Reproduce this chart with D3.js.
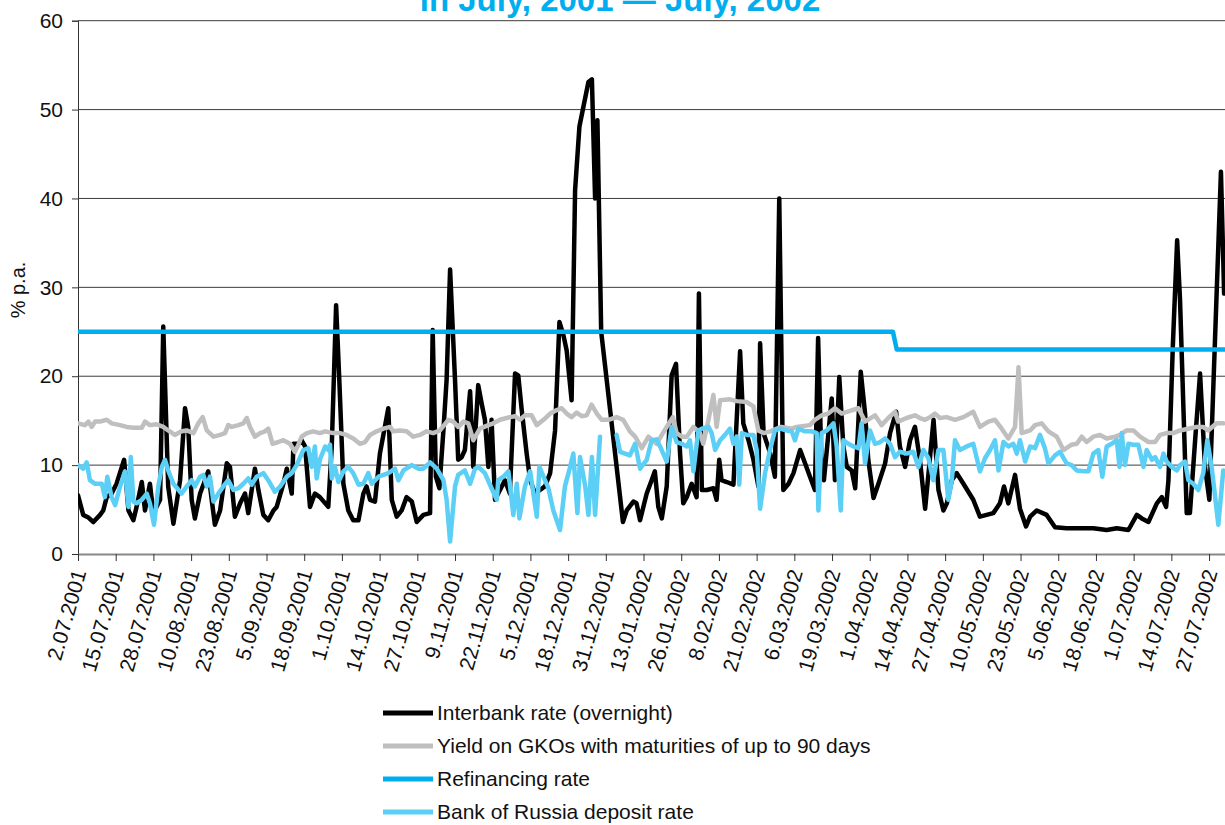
<!DOCTYPE html>
<html>
<head>
<meta charset="utf-8">
<script src="https://cdn.jsdelivr.net/npm/d3@7"></script>
<style>
  body { margin: 0; background: #fff; }
  svg { display: block; font-family: "Liberation Sans", Arial, sans-serif; }
</style>
</head>
<body>
<svg width="1225" height="825"></svg>
<script>
'use strict'

// day offsets from 2.07.2001, value in % p.a.
const interbank = [
    [0, 6.6], [1.8, 4.4], [3.6, 4.1], [5.3, 3.6], [7.6, 4.4], [8.7, 4.9], [9.9, 6.4], [11.6, 6.8],
    [13.3, 7.9], [15.9, 10.6], [17.4, 4.9], [19.1, 3.8], [20.2, 5.3], [22, 8.1], [23.1, 4.9],
    [24.8, 7.9], [26, 4.6], [28.3, 6.1], [29.4, 25.6], [31.1, 7.6], [32.9, 3.4], [35.2, 8.3],
    [36.9, 16.4], [38, 14.3], [39.2, 6.1], [40.3, 4], [42.1, 6.8], [43.8, 8.3], [44.9, 9.3],
    [46.1, 6.1], [47.2, 3.3], [49, 4.9], [51.3, 10.2], [52.4, 9.8], [54.1, 4.2], [55.9, 5.7],
    [57.6, 6.8], [58.7, 4.6], [61, 9.6], [62.2, 7.2], [63.9, 4.4], [65.6, 3.8], [67.4, 4.9],
    [68.5, 5.3], [70.8, 7.9], [72, 9.6], [73.7, 6.8], [74.3, 12.4], [76, 12.4], [77.1, 12.8],
    [78.3, 12.1], [80, 5.3], [81.7, 6.8], [83.4, 6.4], [86.3, 5.3], [87.5, 12.1], [89, 28],
    [90.1, 19.6], [91.5, 7.9], [93.2, 4.9], [94.9, 3.8], [96.7, 3.8], [98.4, 6.8], [99.5, 7.6],
    [100.7, 6.1], [102.4, 5.9], [104.1, 11.3], [107, 16.4], [108.2, 6.1], [109.9, 4.2],
    [111.6, 4.9], [113.3, 6.4], [115.1, 5.9], [116.8, 3.6], [119.1, 4.4], [121.4, 4.6],
    [122.3, 25.2], [123.4, 8.7], [124.6, 7.4], [126, 13.9], [127.1, 19.6], [128.3, 32],
    [130, 19.6], [131.1, 10.6], [132.3, 10.9], [133.4, 11.7], [135.2, 18.3], [136.3, 9.8],
    [138, 19], [139.2, 16.9], [140.3, 15.1], [141.5, 9.8], [142.6, 15.1], [143.8, 6.1],
    [145.5, 7.2], [147.2, 8.3], [148.9, 6.8], [150.7, 20.3], [151.8, 20.1], [153, 16.2],
    [154.7, 11.3], [155.9, 8.3], [157.6, 6.8], [159.3, 7.2], [161, 7.6], [162.8, 9.1],
    [164.5, 13.9], [166, 26.1], [167.4, 24.6], [168.5, 22.9], [170.2, 17.3], [171.4, 40.9],
    [172.9, 48.1], [176, 53.1], [177.2, 53.4], [178.3, 40], [179.1, 48.8], [180.4, 25],
    [187.9, 3.6], [189.2, 4.9], [191.5, 5.9], [192.6, 5.7], [193.8, 3.8], [196.1, 6.8],
    [197.8, 8.3], [198.9, 9.3], [200.1, 5.3], [201.3, 4], [203, 7.6], [204.7, 20.1],
    [206.2, 21.4], [207.6, 11.3], [208.7, 5.7], [209.9, 6.4], [211.6, 7.9], [213.3, 6.4],
    [214.1, 29.3], [215.1, 7.2], [216.8, 7.2], [219.1, 7.4], [220.2, 6.1], [221.1, 10.6],
    [221.9, 8.3], [223.7, 8.1], [226, 7.8], [228.3, 22.8], [229.4, 14.7], [231.2, 12.8],
    [232.9, 10.6], [234.6, 7.6], [235.2, 23.7], [236.4, 13.6], [238.7, 11.3], [240.3, 8.7],
    [241.8, 40], [243.2, 7.2], [245, 7.9], [246.7, 9.1], [249, 11.7], [250.7, 10.2],
    [252.4, 8.7], [254.1, 7.2], [255.2, 24.3], [256.4, 9.8], [257.2, 8.3], [259.9, 17.5],
    [261, 8.3], [262.5, 19.9], [263.9, 12.1], [265.1, 9.8], [266.8, 9.4], [268, 7.4],
    [269.9, 20.5], [271.4, 15.8], [272.5, 10.6], [274.3, 6.3], [276, 7.9], [278.3, 10.2],
    [280, 13.6], [282.1, 16], [283.4, 12.1], [285.2, 9.8], [286.9, 12.8], [288.6, 14.3],
    [290.3, 10.6], [292.1, 5.1], [293.8, 10.9], [295, 15.1], [296.7, 7.2], [298.4, 4.9],
    [299.6, 5.7], [301.3, 8.3], [303, 9.1], [305.3, 7.9], [308.7, 6.1], [311, 4.2],
    [313.3, 4.4], [315.6, 4.6], [317.9, 5.7], [319.3, 7.6], [320.8, 5.7], [323.1, 8.9],
    [324.8, 5.1], [326.9, 3.1], [328.3, 4.2], [330.6, 4.9], [334, 4.4], [336.9, 3],
    [340.9, 2.9], [346.7, 2.9], [350.1, 2.9], [354.7, 2.7], [358.2, 2.9], [362.2, 2.7],
    [365.1, 4.4], [366.8, 4], [369.1, 3.6], [372, 5.7], [373.7, 6.4], [375.2, 5.3],
    [376, 8.3], [377.5, 23.3], [379, 35.3], [380, 28.5], [382.3, 4.6], [383.4, 4.6],
    [385.2, 12.8], [386.9, 20.3], [388.6, 9.8], [390.1, 6.1], [394.1, 43], [395.2, 29.3]
]

const gko = [
    [0, 14.7], [2.4, 14.5], [3.6, 14.9], [4.7, 14.3], [5.9, 14.9], [7.6, 14.9], [9.9, 15.1],
    [11.6, 14.7], [14.5, 14.5], [16.8, 14.3], [19.1, 14.2], [22, 14.2], [23.1, 14.9],
    [24.8, 14.5], [27.1, 14.6], [29.4, 14.3], [31.1, 13.9], [33.4, 13.4], [35.7, 13.8],
    [37.5, 13.9], [39.8, 13.6], [41.5, 14.7], [43, 15.4], [44.4, 13.9], [46.7, 13.2],
    [49, 13.4], [50.7, 13.6], [51.8, 14.5], [53, 14.3], [55.3, 14.5], [57, 14.7], [58.2, 15.3],
    [59.3, 14.3], [61, 13.2], [62.8, 13.6], [64.5, 13.8], [65.6, 14.1], [67.1, 12.4],
    [69.1, 12.6], [70.8, 12.8], [73.1, 12.4], [74.8, 11.5], [76, 12.3], [77.1, 13.2],
    [78.9, 13.6], [81.1, 13.8], [83.4, 13.6], [85.2, 13.8], [88, 13.6], [90.3, 13.6],
    [92.6, 13.4], [94.9, 13], [97.2, 12.4], [99, 12.6], [100.7, 13.4], [103, 13.8],
    [105.3, 14.1], [107.6, 14.3], [108.7, 13.8], [111, 13.9], [113.3, 13.8], [115.6, 13.2],
    [117.9, 13.4], [120.2, 13.8], [122.5, 13.6], [124.8, 13.9], [127.7, 15.1], [129.4, 14.9],
    [131.1, 14.3], [132.9, 14.9], [134.6, 14.7], [136.3, 12.8], [138.6, 14.1], [141.5, 14.5],
    [143.2, 14.7], [145.5, 15.1], [148.9, 15.4], [150.7, 15.5], [152.4, 15.1], [154.1, 15.6],
    [156.4, 15.6], [158.2, 14.5], [160.5, 15.1], [162.8, 15.8], [165.1, 16.2], [166.8, 16.4],
    [168.5, 15.8], [170.2, 15.4], [171.9, 15.9], [173.7, 15.5], [175.4, 15.6], [177.1, 16.8],
    [178.9, 15.8], [180.6, 15.1], [182.9, 15.1], [185.7, 15.4], [188, 15.1], [190.3, 13.8],
    [192.1, 13.2], [194.4, 11.9], [196.7, 13.2], [199.5, 12.4], [201.3, 13.4], [203, 14.3],
    [205.1, 15.4], [206.4, 13.6], [208.2, 13.2], [209.9, 13.2], [212.2, 14.3], [214.5, 13.6],
    [215.6, 12.4], [217.4, 15.1], [219.1, 17.9], [220.2, 14.3], [221.4, 17.3], [224.8, 17.4],
    [227.1, 17.2], [230.6, 17.1], [232.9, 16.6], [234.6, 13.9], [236.4, 13.6], [238.7, 13.8],
    [241, 14.1], [242.6, 14.3], [246.1, 14.1], [247.8, 14.3], [252.4, 14.5], [254.1, 15.1],
    [256.4, 15.6], [258.7, 15.8], [261, 16.4], [263.3, 15.8], [266.2, 16.1], [269.1, 16.4],
    [271.4, 14.9], [274.8, 15.6], [277.1, 14.5], [279.4, 15.3], [281.7, 16], [282.8, 14.9],
    [285.7, 15.3], [288.6, 15.6], [290.3, 15.3], [292.1, 15.1], [293.8, 15.4], [295.5, 15.8],
    [297.2, 15.3], [299.5, 15.4], [302.4, 15.1], [305.3, 15.4], [308.7, 16], [311, 14.3],
    [313.9, 14.9], [316.2, 15.1], [318.5, 14.1], [320.8, 13], [323.1, 14.3], [324.3, 21],
    [325.4, 13.6], [328.3, 13.9], [330, 14.5], [332.3, 14.7], [334.6, 13.8], [337.5, 13.2],
    [339.8, 11.7], [342.6, 12.3], [344.4, 12.4], [346.1, 13.2], [347.8, 12.6], [350.1, 13.2],
    [352.4, 13.4], [354.7, 13], [357.6, 13.2], [359.3, 13.4], [361.6, 13.9], [363.9, 13.9],
    [366.2, 13.2], [369.1, 12.6], [371.4, 12.6], [373.1, 13.4], [375.4, 13.6], [377.7, 13.6],
    [380, 13.9], [382.9, 14.1], [385.7, 14.3], [388, 14.3], [389.7, 13.9], [392.6, 14.7],
    [394.9, 14.7]
]

const refinancing = [[0, 25], [281, 25], [282.3, 23], [395.5, 23]]

// no deposit quotes over the new-year holidays
const deposit = [
    [0, 10], [1.8, 9.6], [3, 10.3], [4.1, 8.3], [5.9, 7.9], [8.2, 7.9], [9.3, 6.4], [10.1, 8.7],
    [11.6, 6.4], [12.8, 5.5], [14.5, 7.6], [16.2, 9.3], [17.4, 5.3], [18.2, 10.9], [19.1, 5.9],
    [20.2, 5.7], [22, 6.1], [23.7, 6.8], [24.8, 5.7], [26.2, 3.3], [27.7, 7.6], [28.9, 9.8],
    [30, 10.6], [31.1, 9.4], [32.9, 7.9], [35.7, 6.8], [37.5, 7.6], [39.2, 8.3], [40.3, 7.6],
    [42.1, 8.7], [43.2, 8.9], [44.4, 7.6], [45.5, 8.7], [46.7, 5.9], [48.4, 6.8], [50.1, 7.6],
    [51.8, 8.3], [53.6, 7.2], [55.3, 7.4], [57, 7.9], [58.7, 8.5], [59.9, 7.8], [61.6, 8.7],
    [63.9, 9.1], [65.6, 8.3], [67.9, 7], [69.7, 7.6], [72, 8.7], [73.7, 9.1], [75.4, 10],
    [77.7, 11.7], [79.4, 11.9], [80.6, 9.8], [81.7, 12.1], [82.3, 8.5], [83.4, 10.6],
    [85.2, 12.1], [86.3, 11.7], [86.9, 12.3], [87.5, 8.5], [88.6, 9.8], [89.8, 8.1],
    [91.5, 9.3], [93.2, 9.8], [94.9, 9.1], [96.7, 7.8], [98.4, 7.9], [100.1, 9.1], [101.3, 7.9],
    [103.6, 8.7], [107, 9.1], [109.3, 9.6], [110.5, 8.3], [112.2, 9.4], [115.1, 10], [117.4, 9.6],
    [119.1, 9.6], [121.4, 10.3], [123.7, 9.6], [126, 8.3], [127.1, 6.1], [128.3, 1.4],
    [130, 7.6], [131.1, 8.9], [133.4, 9.4], [135.2, 7.9], [136.9, 9.6], [138, 9.8], [140.3, 9.1],
    [142.6, 7.4], [144.4, 6.1], [144.9, 8.3], [146.7, 8.7], [148.4, 9.3], [150.1, 4.4],
    [151.3, 7.9], [152.2, 4], [154.1, 7.6], [155.9, 9.3], [158.2, 4.2], [159.1, 9.8],
    [160.5, 8.7], [162.2, 7.4], [163.9, 4.9], [166.2, 2.7], [167.9, 7.6], [169.7, 9.8],
    [170.8, 11.3], [172.2, 4.6], [173.1, 10.9], [174.9, 7.6], [176, 4.4], [177.2, 10.9],
    [178.3, 4.4], [180, 13.2], [183, null], [185.7, 13.4], [186.9, 11.5], [190.3, 11.1],
    [192.1, 12.4], [193.8, 9.6], [196.1, 10.6], [197.8, 12.8], [199.5, 12.9], [200.7, 12.1],
    [203, 10.4], [204.7, 14.3], [206.4, 12.6], [208.2, 12.4], [209.9, 12.1], [211, 12.8],
    [212.2, 9.3], [213.9, 13.9], [215.1, 14.1], [217.4, 14.3], [218.5, 13.6], [219.7, 11.7],
    [221.4, 12.8], [223.1, 13.4], [224.8, 14.1], [226, 12.4], [227.1, 13.2], [228, 7.8],
    [228.9, 13.6], [230.6, 13.4], [232.9, 13.4], [234, 11.7], [235.2, 5.1], [236.9, 9.1],
    [238.6, 11.7], [240.3, 13.9], [242.1, 14.1], [244.4, 13.9], [246.1, 13.8], [247.2, 12.8],
    [248.4, 14.1], [250.7, 13.8], [253, 13.8], [254.7, 13.6], [255.3, 4.9], [256.4, 13.6],
    [258.2, 13.9], [260.5, 14.7], [261.6, 12.1], [263, 4.9], [263.9, 12.8], [265.6, 12.4],
    [267.4, 12.1], [269.1, 11.9], [270.2, 14.7], [271.4, 10.2], [273.1, 13.9], [274.8, 12.4],
    [276.6, 12.6], [278.3, 13], [280, 12.4], [281.7, 10.9], [283.4, 11.5], [285.7, 11.3],
    [288, 11.5], [289.8, 9.8], [291.5, 11.7], [293.2, 10.8], [294.9, 8.3], [296.7, 11.7],
    [298.4, 11.7], [300.1, 6.1], [301.3, 8.3], [302.4, 12.8], [304.1, 11.7], [306.4, 12.1],
    [308.7, 12.4], [311, 9.3], [312.8, 10.8], [314.5, 11.7], [316.2, 12.8], [317.4, 9.4],
    [319.1, 12.6], [320.8, 12.1], [322.5, 12.4], [323.7, 11.3], [324.8, 12.8], [326.6, 10.4],
    [328.3, 12.1], [330, 11.9], [331.7, 13.4], [333.4, 11.9], [334.6, 10.2], [336.9, 11.1],
    [338.6, 11.5], [340.9, 10.2], [342.6, 10], [344.4, 9.4], [346.7, 9.3], [348.4, 9.3],
    [350.1, 11.3], [351.8, 11.7], [353.2, 8.7], [354.7, 12.1], [356.4, 12.4], [358.2, 12.8],
    [359.1, 9.8], [359.9, 13.6], [361, 10], [362.2, 12.4], [363.9, 12.3], [365.6, 12.3],
    [367.4, 9.8], [368.5, 11.7], [370.3, 10.6], [371.4, 10.9], [373.1, 9.8], [374.3, 11.3],
    [375.4, 10.4], [377.1, 9.8], [378.9, 9.4], [380, 10], [381.7, 10.4], [382.9, 8.3],
    [384.6, 7.9], [386.3, 7.2], [388, 9.1], [389.4, 12.8], [390.9, 9.8], [393.2, 3.3],
    [394.9, 9.4]
]

const tickLabels = [
    '2.07.2001', '15.07.2001', '28.07.2001', '10.08.2001', '23.08.2001', '5.09.2001',
    '18.09.2001', '1.10.2001', '14.10.2001', '27.10.2001', '9.11.2001', '22.11.2001',
    '5.12.2001', '18.12.2001', '31.12.2001', '13.01.2002', '26.01.2002', '8.02.2002',
    '21.02.2002', '6.03.2002', '19.03.2002', '1.04.2002', '14.04.2002', '27.04.2002',
    '10.05.2002', '23.05.2002', '5.06.2002', '18.06.2002', '1.07.2002', '14.07.2002',
    '27.07.2002'
]
const yTicks = [0, 10, 20, 30, 40, 50, 60]

const series = [
    { name: 'Interbank rate (overnight)', color: '#000000', data: interbank },
    { name: 'Yield on GKOs with maturities of up to 90 days', color: '#bfbfbf', data: gko },
    { name: 'Refinancing rate', color: '#00aeef', data: refinancing },
    { name: 'Bank of Russia deposit rate', color: '#5bcff5', data: deposit }
]

const svg = d3.select('svg')
const plotLeft = 78
const plotRight = 1225
const plotTop = 20.7
const plotBottom = 554

const start = new Date(2001, 6, 2)
const toDate = d => new Date(start.getTime() + d * 864e5)
const parse = d3.timeParse('%d.%m.%Y')

const x = d3.scaleTime().domain([start, toDate(395.5)]).range([plotLeft, plotRight])
const y = d3.scaleLinear().domain([0, 60]).range([plotBottom, plotTop])

// title, cut by the top edge like in the source
svg.append('text')
    .attr('x', 620)
    .attr('y', 11)
    .attr('text-anchor', 'middle')
    .attr('font-size', 33)
    .attr('font-weight', 'bold')
    .attr('fill', '#00aeef')
    .text('in July, 2001 \u2014 July, 2002')

// grid
svg.append('g')
    .selectAll('line')
    .data(yTicks.slice(1))
    .enter()
    .append('line')
    .attr('x1', plotLeft)
    .attr('x2', plotRight)
    .attr('y1', d => y(d))
    .attr('y2', d => y(d))
    .attr('stroke', '#3c3c3c')
    .attr('stroke-width', 1)

const yAxis = svg.append('g')
    .attr('transform', `translate(${plotLeft},0)`)
    .call(d3.axisLeft(y).tickValues(yTicks).tickSize(6).tickPadding(9))
yAxis.select('.domain').attr('stroke', '#333')
yAxis.selectAll('.tick line').attr('stroke', '#333')
yAxis.selectAll('text')
    .attr('font-size', 21)
    .attr('font-family', '"Liberation Sans", Arial, sans-serif')
    .attr('fill', '#111')

const xAxis = svg.append('g')
    .attr('transform', `translate(0,${plotBottom})`)
    .call(d3.axisBottom(x)
        .tickValues(tickLabels.map(parse))
        .tickFormat((d, i) => tickLabels[i])
        .tickSize(7)
        .tickSizeOuter(0))
xAxis.select('.domain').attr('stroke', '#888').attr('stroke-width', 2)
xAxis.selectAll('.tick line').attr('stroke', '#333')
xAxis.selectAll('text')
    .attr('font-size', 21)
    .attr('font-family', '"Liberation Sans", Arial, sans-serif')
    .attr('fill', '#111')
    .attr('text-anchor', 'end')
    .attr('x', 0)
    .attr('y', 0)
    .attr('dy', '0.35em')
    .attr('transform', 'translate(1,16) rotate(-74)')

svg.append('text')
    .attr('transform', 'translate(25,290) rotate(-90)')
    .attr('text-anchor', 'middle')
    .attr('font-size', 20)
    .attr('fill', '#111')
    .text('% p.a.')

const line = d3.line()
    .defined(d => d[1] !== null)
    .x(d => x(toDate(d[0])))
    .y(d => y(d[1]))

svg.append('defs').append('clipPath').attr('id', 'plot')
    .append('rect').attr('x', plotLeft).attr('y', 0)
    .attr('width', plotRight - plotLeft).attr('height', plotBottom + 10)

svg.append('g')
    .attr('clip-path', 'url(#plot)')
    .selectAll('path')
    .data(series)
    .enter()
    .append('path')
    .attr('d', d => line(d.data))
    .attr('fill', 'none')
    .attr('stroke', d => d.color)
    .attr('stroke-width', 4.5)
    .attr('stroke-linejoin', 'round')
    .attr('stroke-linecap', 'round')

// legend
const legend = svg.append('g')
    .selectAll('g')
    .data(series)
    .enter()
    .append('g')
    .attr('transform', (d, i) => `translate(383,${713 + i * 33})`)

legend.append('line')
    .attr('x1', 0)
    .attr('x2', 50)
    .attr('stroke', d => d.color)
    .attr('stroke-width', 5)

legend.append('text')
    .attr('x', 54)
    .attr('dy', '0.35em')
    .attr('font-size', 21)
    .attr('fill', '#111')
    .text(d => d.name)
</script>
</body>
</html>
